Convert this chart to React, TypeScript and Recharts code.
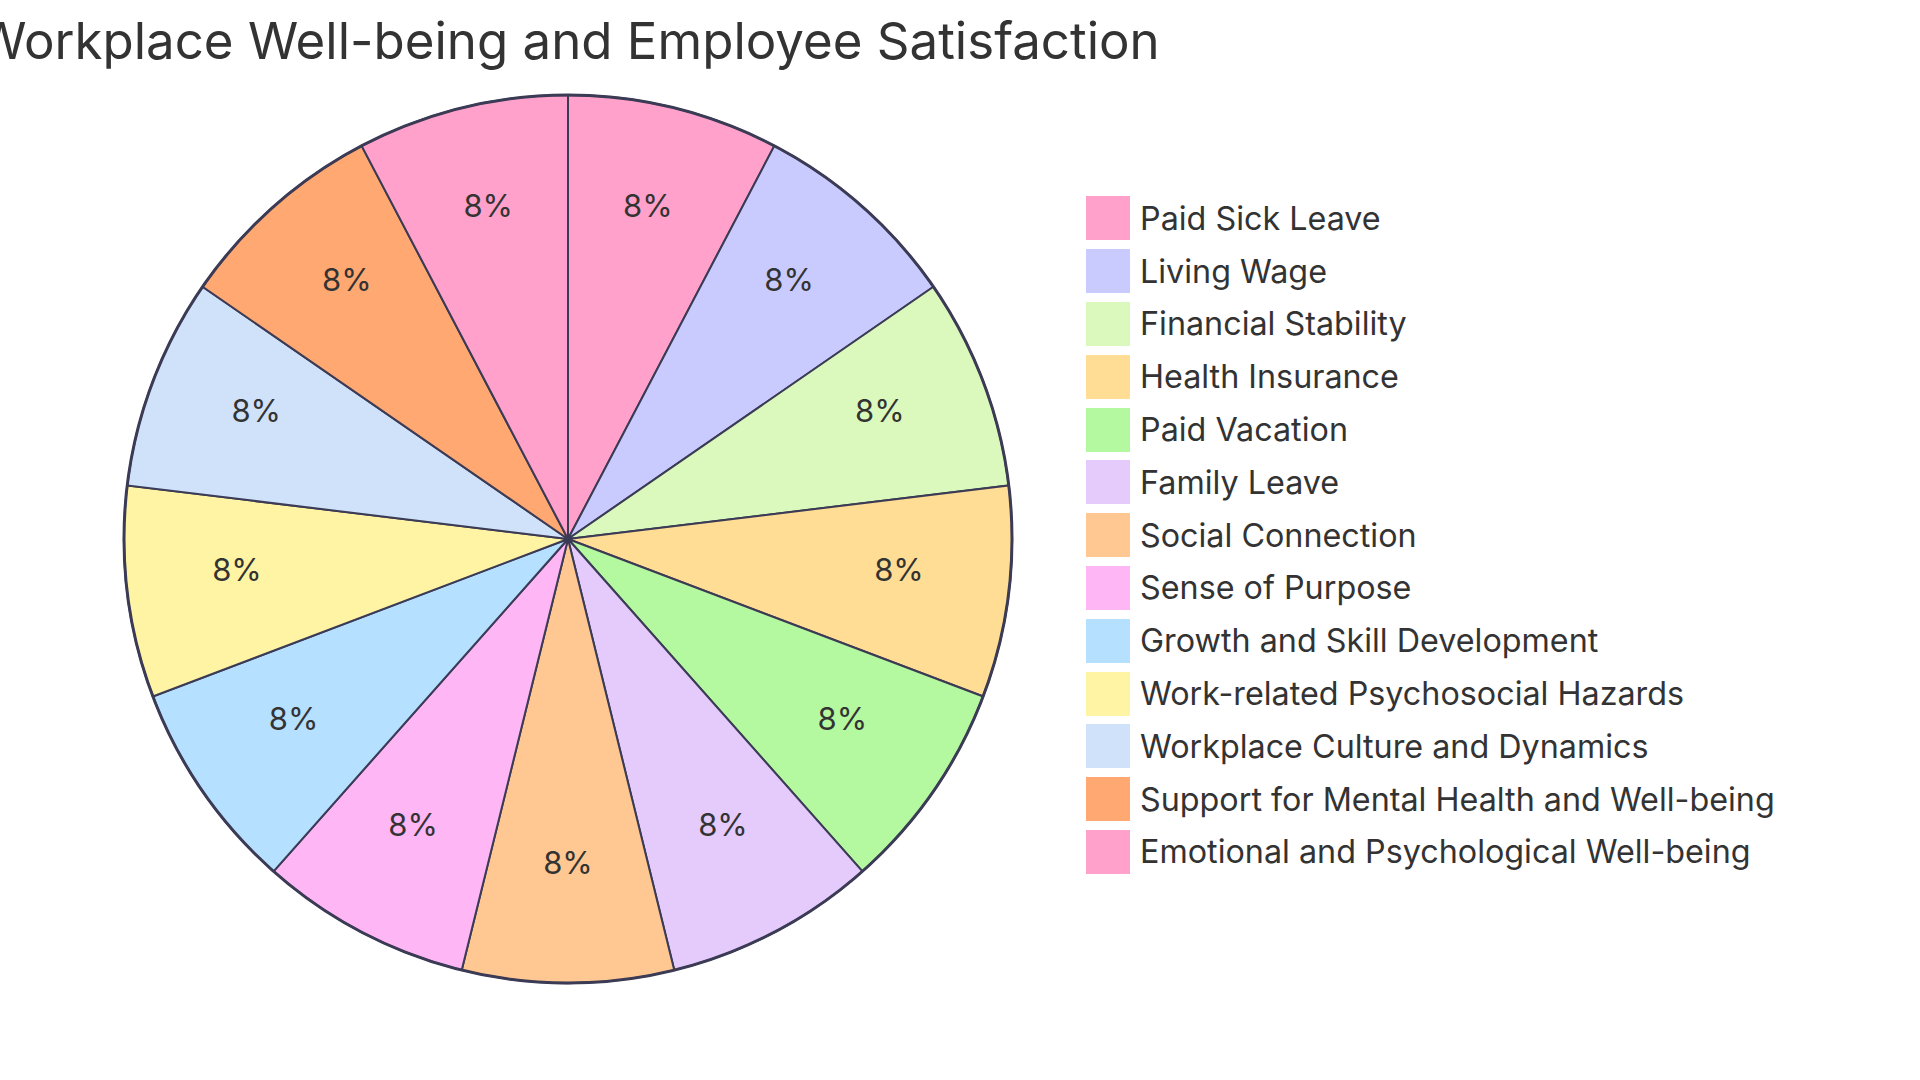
import { Legend, Pie, PieChart, Cell } from "recharts";

const CATEGORIES = [
  "Paid Sick Leave",
  "Living Wage",
  "Financial Stability",
  "Health Insurance",
  "Paid Vacation",
  "Family Leave",
  "Social Connection",
  "Sense of Purpose",
  "Growth and Skill Development",
  "Work-related Psychosocial Hazards",
  "Workplace Culture and Dynamics",
  "Support for Mental Health and Well-being",
  "Emotional and Psychological Well-being",
];
const VALUES = [1, 1, 1, 1, 1, 1, 1, 1, 1, 1, 1, 1, 1];
const COLORS = [
  "#ffa1ca", "#c9cbff", "#dbf9bd", "#ffdd94", "#b4f8a0", "#e5cbfc", "#ffc791",
  "#ffb6f4", "#b6e0ff", "#fff4a3", "#cfe2fa", "#ffa872", "#ffa1ca",
];

const TITLE = "Workplace Well-being and Employee Satisfaction";
const FONT = "Inter, 'Open Sans', sans-serif";
const STROKE = "#3b3b55";
const RAD = Math.PI / 180;
const CX = 568;
const CY = 539;
const R = 444;

const data = CATEGORIES.map((name, i) => ({ name, value: VALUES[i] }));

// labels sit at 75% of the radius, text raised a bit like the original
function pctLabel(props: any) {
  const { cx, cy, midAngle, outerRadius, percent } = props;
  const r = outerRadius * 0.751;
  const x = cx + r * Math.cos(-midAngle * RAD);
  const y = cy + r * Math.sin(-midAngle * RAD) - 10;
  return (
    <text x={x} y={y} fill="#333" fontSize={31} fontFamily={FONT} textAnchor="middle" dominantBaseline="central">
      {`${Math.round(percent * 100)}%`}
    </text>
  );
}

function LegendBox() {
  return (
    <div>
      {data.map((d, i) => (
        <div key={d.name} style={{ display: "flex", alignItems: "center", height: 52.8 }}>
          <div style={{ width: 44, height: 44, background: COLORS[i], marginRight: 10 }} />
          <span style={{ fontSize: 32.3, color: "#333", fontFamily: FONT, whiteSpace: "nowrap" }}>{d.name}</span>
        </div>
      ))}
    </div>
  );
}

export default function App() {
  return (
    <div style={{ position: "absolute", left: 0, top: 0, width: 1920, height: 1080, overflow: "hidden", background: "#fff" }}>
      <div
        style={{
          position: "absolute", left: CX - 1000, top: 8, width: 2000, textAlign: "center",
          fontSize: 51, fontFamily: FONT, color: "#333", whiteSpace: "nowrap", lineHeight: "66px",
        }}
      >
        {TITLE}
      </div>
      <PieChart
        width={1920}
        height={1080}
        margin={{ top: 0, right: 0, bottom: 0, left: 0 }}
        style={{ position: "absolute", left: 0, top: 0 }}
      >
        <Pie
          data={data}
          dataKey="value"
          nameKey="name"
          cx={CX}
          cy={CY}
          outerRadius={R}
          startAngle={90}
          endAngle={-270}
          stroke={STROKE}
          strokeWidth={2}
          label={pctLabel}
          labelLine={false}
          isAnimationActive={false}
        >
          {data.map((_, i) => (
            <Cell key={i} fill={COLORS[i]} />
          ))}
        </Pie>
        <Legend
          content={() => <LegendBox />}
          wrapperStyle={{ position: "absolute", left: 1086, top: 192, width: 820 }}
        />
      </PieChart>
      <svg width={1920} height={1080} style={{ position: "absolute", left: 0, top: 0, pointerEvents: "none" }}>
        <circle cx={CX} cy={CY} r={R} fill="none" stroke={STROKE} strokeWidth={3} />
      </svg>
    </div>
  );
}
